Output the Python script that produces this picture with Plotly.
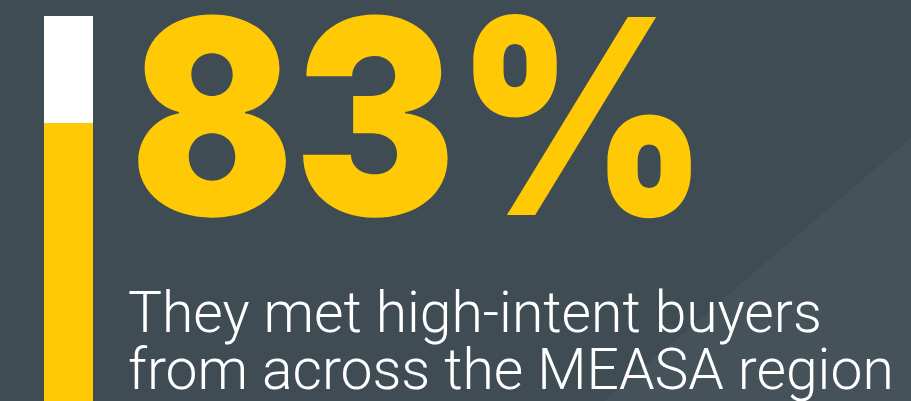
import plotly.graph_objects as go

# Data
categories = ["MEASA buyers"]
met_share = [83]
remaining_share = [17]
headline = "83%"
subtitle_lines = ["They met high-intent buyers", "from across the MEASA region"]

BG = "#3f4c54"
TRI = "#45525a"
YELLOW = "#ffc905"
WHITE = "#ffffff"

W, H = 911, 401

fig = go.Figure()
fig.add_trace(go.Bar(x=categories, y=met_share, marker=dict(color=YELLOW, line=dict(width=0)),
                     width=1, hoverinfo="skip"))
fig.add_trace(go.Bar(x=categories, y=remaining_share, marker=dict(color=WHITE, line=dict(width=0)),
                     width=1, hoverinfo="skip"))

# y scale: 100 at 16px from top, 83 at 123px from top
ppu = (123 - 16) / 17.0
y_top = 100 + 16 / ppu
y_bot = 100 - (H - 16) / ppu

fig.update_layout(
    width=W, height=H,
    margin=dict(l=0, r=0, t=0, b=0),
    paper_bgcolor=BG, plot_bgcolor="rgba(0,0,0,0)",
    barmode="stack", bargap=0, showlegend=False,
    xaxis=dict(domain=[44 / W, 93 / W], visible=False, range=[-0.5, 0.5], fixedrange=True),
    yaxis=dict(domain=[0, 1], visible=False, range=[y_bot, y_top], fixedrange=True),
    shapes=[dict(type="path", xref="paper", yref="paper",
                 path=f"M 1 {1 - 138 / H} L {604 / W} 0 L 1 0 Z",
                 fillcolor=TRI, line=dict(width=0), layer="below")],
)

fig.add_annotation(text=headline, xref="paper", yref="paper",
                   x=128 / W, y=1 - 116 / H, xanchor="left", yanchor="middle",
                   showarrow=False, name="headline",
                   font=dict(family="Inter", size=272, color=YELLOW, weight=900))
fig.add_annotation(text=subtitle_lines[0], xref="paper", yref="paper",
                   x=126 / W, y=1 - 312 / H, xanchor="left", yanchor="middle",
                   showarrow=False,
                   font=dict(family="Roboto", size=57, color=WHITE, weight=300))
fig.add_annotation(text=subtitle_lines[1], xref="paper", yref="paper",
                   x=126 / W, y=1 - 369 / H, xanchor="left", yanchor="middle",
                   showarrow=False,
                   font=dict(family="Roboto", size=57, color=WHITE, weight=300))

post = (
    "document.body.style.margin='0';document.body.style.padding='0';"
    "document.body.style.background='#3f4c54';document.body.style.overflow='hidden';"
    "var t=document.querySelector('.annotation[data-index=\"0\"] text.annotation-text');"
    "if(t){t.style.transformBox='fill-box';t.style.transformOrigin='left center';"
    "t.style.transform='scaleX(0.889)';}"
)
fig.write_html("out.html", config={"displayModeBar": False}, post_script=post)
